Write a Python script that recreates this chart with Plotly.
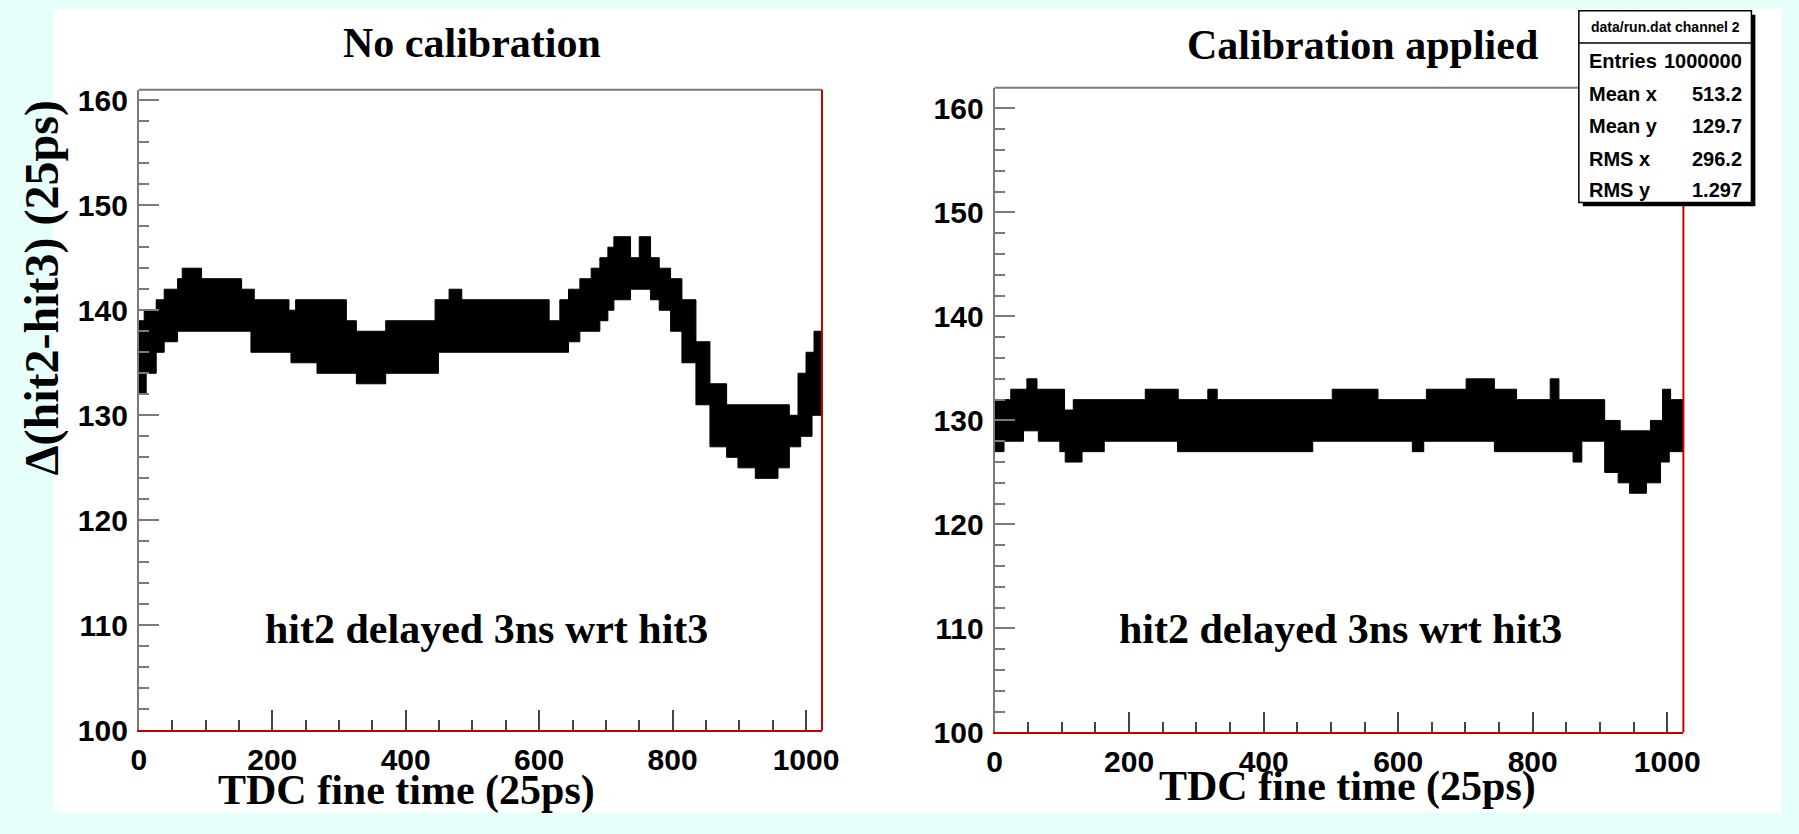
import plotly.graph_objects as go

W, H = 1799, 834

# ---------------- data ----------------
# Left panel "No calibration": upper / lower envelope of the dense scatter band (step edges)
left_hi_x = [0, 8, 26, 38, 58, 65, 94, 154, 173, 225, 235, 311, 326, 370, 444, 465, 484, 615, 631, 644,
             661, 678, 691, 703, 712, 737, 750, 767, 780, 797, 814, 835, 856, 881, 975, 988, 1000, 1012, 1024]
left_hi_y = [139, 140, 141, 142, 143, 144, 143, 142, 141, 140, 141, 139, 138, 139, 141, 142, 141, 139, 141, 142,
             143, 144, 145, 146, 147, 145, 147, 145, 144, 143, 141, 137, 133, 131, 130, 134, 136, 138, 138]
left_lo_x = [0, 11, 26, 38, 58, 168, 228, 267, 326, 370, 449, 644, 661, 691, 703, 712, 737, 767, 780, 797,
             814, 835, 856, 881, 898, 924, 958, 975, 992, 1009, 1024]
left_lo_y = [132, 134, 136, 137, 138, 136, 135, 134, 133, 134, 136, 137, 138, 139, 140, 141, 142, 141, 140, 138,
             135, 131, 127, 126, 125, 124, 125, 127, 128, 130, 130]

# Right panel "Calibration applied"
right_hi_x = [0, 24, 48, 63, 104, 117, 224, 273, 317, 331, 502, 570, 642, 701, 743, 776, 826, 839, 907, 930,
              975, 993, 1005, 1024]
right_hi_y = [132, 133, 134, 133, 131, 132, 133, 132, 133, 132, 133, 132, 133, 134, 133, 132, 134, 132, 130, 129,
              130, 133, 132, 132]
right_lo_x = [0, 14, 43, 65, 97, 105, 130, 163, 272, 473, 621, 638, 743, 860, 873, 907, 927, 944, 969, 990,
              1003, 1024]
right_lo_y = [127, 128, 129, 128, 127, 126, 127, 128, 127, 128, 127, 128, 127, 126, 128, 125, 124, 123, 124, 126,
              127, 127]

panel_titles = ["No calibration", "Calibration applied"]
x_title = "TDC fine time (25ps)"
y_title = "Δ(hit2-hit3) (25ps)"
note_text = "hit2 delayed 3ns wrt hit3"
stats_header = "data/run.dat channel 2"
stats_names = ["Entries", "Mean x", "Mean y", "RMS x", "RMS y"]
stats_values = ["1000000", "513.2", "129.7", "296.2", "1.297"]

# ---------------- figure ----------------
def fx(px):
    return px / W


def fy(py):
    return 1 - py / H


fig = go.Figure()


def band(lo_x, lo_y, hi_x, hi_y, xa, ya):
    fig.add_trace(go.Scatter(x=lo_x, y=lo_y, mode="lines", xaxis=xa, yaxis=ya,
                             line=dict(color="black", width=1, shape="hv"),
                             showlegend=False, hoverinfo="skip"))
    fig.add_trace(go.Scatter(x=hi_x, y=hi_y, mode="lines", xaxis=xa, yaxis=ya,
                             line=dict(color="black", width=1, shape="hv"),
                             fill="tonexty", fillcolor="black",
                             showlegend=False, hoverinfo="skip"))


band(left_lo_x, left_lo_y, left_hi_x, left_hi_y, "x", "y")
band(right_lo_x, right_lo_y, right_hi_x, right_hi_y, "x2", "y2")

tickfont = dict(family="Liberation Sans", size=30, color="black", weight="bold")
RED = "#c40000"
GRAY = "#7a7a7a"


def xaxis(domain, anchor):
    return dict(domain=domain, anchor=anchor, range=[0, 1024], showgrid=False, zeroline=False,
                showline=True, linecolor=RED, linewidth=2,
                ticks="inside", ticklen=20, tickwidth=1.5, tickcolor="#444444",
                tick0=0, dtick=200, tickfont=tickfont, ticklabelstandoff=2,
                minor=dict(ticks="inside", ticklen=10, tickwidth=1.5, tickcolor="#444444", dtick=50, tick0=0),
                fixedrange=True)


def yaxis(domain, anchor, top):
    return dict(domain=domain, anchor=anchor, range=[100, top], showgrid=False, zeroline=False,
                showline=True, linecolor=GRAY, linewidth=2,
                ticks="inside", ticklen=20, tickwidth=1.5, tickcolor=GRAY,
                tick0=100, dtick=10, tickfont=tickfont, ticklabelstandoff=3,
                minor=dict(ticks="inside", ticklen=10, tickwidth=1.5, tickcolor=GRAY, dtick=2, tick0=100),
                fixedrange=True)


shapes = [
    # white slide panel
    dict(type="rect", xref="paper", yref="paper", x0=fx(46), x1=1, y0=fy(829), y1=fy(3),
         fillcolor="white", line=dict(width=0), layer="below"),
]
for xd, yd in [("x domain", "y domain"), ("x2 domain", "y2 domain")]:
    shapes.append(dict(type="line", xref=xd, yref=yd, x0=0, x1=1, y0=1, y1=1,
                       line=dict(color=GRAY, width=2)))
    shapes.append(dict(type="line", xref=xd, yref=yd, x0=1, x1=1, y0=0, y1=1,
                       line=dict(color=RED, width=2)))

# statistics box
bx0, bx1, by0, by1 = 1593, 1768, 5, 202
shapes += [
    dict(type="rect", xref="paper", yref="paper", x0=fx(bx0 + 4), x1=fx(bx1 + 4), y0=fy(by1 + 4), y1=fy(by0 + 4),
         fillcolor="black", line=dict(width=0)),
    dict(type="rect", xref="paper", yref="paper", x0=fx(bx0), x1=fx(bx1), y0=fy(by1), y1=fy(by0),
         fillcolor="white", line=dict(color="black", width=1.5)),
    dict(type="line", xref="paper", yref="paper", x0=fx(bx0), x1=fx(bx1), y0=fy(38), y1=fy(38),
         line=dict(color="black", width=1.5)),
]

serif = dict(family="Liberation Serif", size=42, color="black", weight="bold")
annotations = [
    dict(text=panel_titles[0], x=fx(471), y=fy(38), xref="paper", yref="paper", showarrow=False,
         xanchor="center", yanchor="middle", font=serif),
    dict(text=panel_titles[1], x=fx(1374), y=fy(40), xref="paper", yref="paper", showarrow=False,
         xanchor="center", yanchor="middle", font=serif),
    dict(text=x_title, x=fx(404), y=0, xref="paper", yref="paper", showarrow=False,
         xanchor="center", yanchor="bottom", yshift=1, font=serif),
    dict(text=x_title, x=fx(1358), y=0, xref="paper", yref="paper", showarrow=False,
         xanchor="center", yanchor="bottom", yshift=5, font=serif),
    dict(text=note_text, x=fx(485), y=fy(641), xref="paper", yref="paper", showarrow=False,
         xanchor="center", yanchor="middle", font=serif),
    dict(text=note_text, x=fx(1351), y=fy(641), xref="paper", yref="paper", showarrow=False,
         xanchor="center", yanchor="middle", font=serif),
    dict(text=y_title, x=fx(34), y=fy(290), xref="paper", yref="paper", showarrow=False, textangle=-90,
         xanchor="center", yanchor="middle",
         font=dict(family="Liberation Serif", size=48, color="black", weight="bold")),
    dict(text=stats_header, x=fx((bx0 + bx1) / 2), y=fy(22), xref="paper", yref="paper", showarrow=False,
         xanchor="center", yanchor="middle",
         font=dict(family="Liberation Sans", size=14, color="black", weight="bold")),
]
row_y = [57, 90, 123, 157, 189]
sfont = dict(family="Liberation Sans", size=20, color="black", weight="bold")
for name, val, ry in zip(stats_names, stats_values, row_y):
    annotations.append(dict(text=name, x=fx(1601), y=fy(ry), xref="paper", yref="paper", showarrow=False,
                            xanchor="left", yanchor="middle", font=sfont))
    annotations.append(dict(text=val, x=fx(1760), y=fy(ry), xref="paper", yref="paper", showarrow=False,
                            xanchor="right", yanchor="middle", font=sfont))

fig.update_layout(
    width=W, height=H, margin=dict(l=0, r=0, t=0, b=0),
    paper_bgcolor="#e6fffa", plot_bgcolor="white",
    xaxis=xaxis([fx(132.7), fx(825.5)], "y"),
    yaxis=yaxis([fy(745), fy(86)], "x", 161),
    xaxis2=xaxis([fx(1000.5), fx(1699)], "y2"),
    yaxis2=yaxis([fy(747), fy(84)], "x2", 162),
    shapes=shapes, annotations=annotations, showlegend=False,
)

fig.write_html("out.html", config={"displayModeBar": False},
               post_script="document.body.style.margin='0';document.body.style.overflow='hidden';")
